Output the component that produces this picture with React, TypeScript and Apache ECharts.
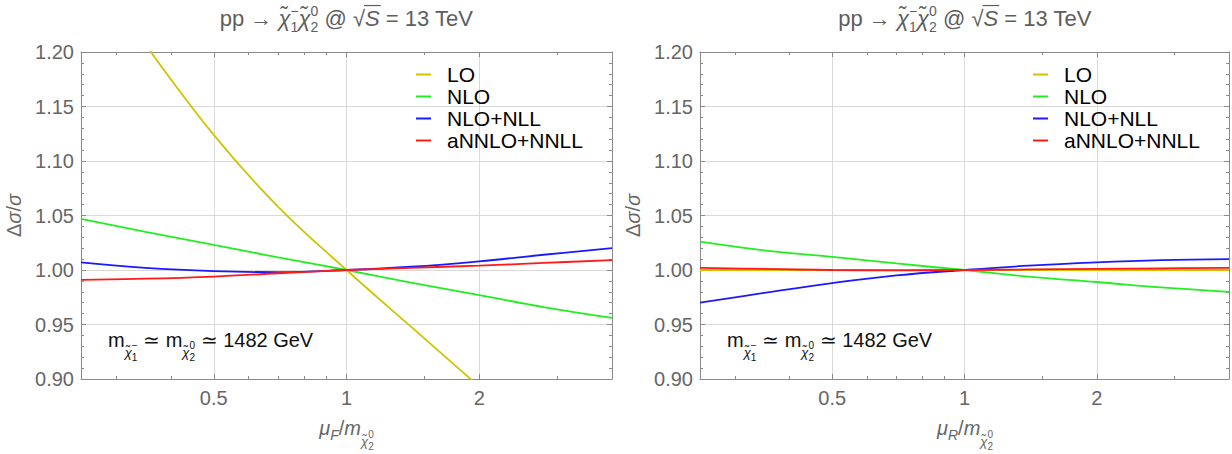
import React, { useEffect, useRef } from 'react';
import * as echarts from 'echarts';

// ---- data ----
const MU = [0.25, 0.35, 0.5, 0.7, 1, 1.4, 2, 2.8, 4];

// left panel: muF variation
const LO_F = [1.293, 1.207, 1.124, 1.058, 1.0, 0.948, 0.893, 0.841, 0.79];
const NLO_F = [1.047, 1.035, 1.023, 1.0115, 1.0, 0.9885, 0.977, 0.966, 0.956];
const NLL_F = [1.007, 1.002, 0.999, 0.998, 1.0, 1.003, 1.008, 1.014, 1.02];
const NNLL_F = [0.991, 0.992, 0.994, 0.997, 1.0, 1.002, 1.004, 1.0065, 1.009];

// right panel: muR variation
const LO_R = [1.0, 1.0, 1.0, 1.0, 1.0, 1.0, 1.0, 1.0, 1.0];
const NLO_R = [1.026, 1.018, 1.012, 1.006, 1.0, 0.994, 0.989, 0.984, 0.98];
const NLL_R = [0.97, 0.979, 0.988, 0.995, 1.0, 1.004, 1.007, 1.009, 1.01];
const NNLL_R = [1.002, 1.001, 1.0, 0.9997, 1.0, 1.0005, 1.001, 1.0015, 1.002];

const SERIES_NAMES = ['LO', 'NLO', 'NLO+NLL', 'aNNLO+NNLL'];
const COLORS = ['#cfc400', '#22ee22', '#1a1aff', '#ff1a1a'];
const PANEL_DATA = [
  [LO_F, NLO_F, NLL_F, NNLL_F],
  [LO_R, NLO_R, NLL_R, NNLL_R],
];

const X_MIN = 0.25;
const X_MAX = 4;
const X_LABELS = [0.5, 1, 2];
const X_MINOR = [0.3, 0.4, 0.6, 0.7, 0.8, 0.9, 1.5, 3];
const Y_MIN = 0.9;
const Y_MAX = 1.2;
const Y_STEP = 0.05;

const FONT = '"Liberation Sans", Arial, Helvetica, sans-serif';
const FRAME = '#8a8a8a';
const GRIDC = '#d9d9d9';
const LABELC = '#666666';
const TITLEC = '#5e5e5e';

const GRIDS = [
  { left: 81, top: 52, width: 531, height: 327 },
  { left: 700, top: 52, width: 530, height: 327 },
];

// ---- math-text helper (graphic text pieces) ----
type P = { t: string; s: number; dy?: number; it?: boolean; dx?: number; nw?: boolean; ov?: boolean };
let ctx: CanvasRenderingContext2D | null = null;
function tw(t: string, s: number, it?: boolean) {
  if (!ctx) ctx = document.createElement('canvas').getContext('2d');
  ctx!.font = `${it ? 'italic ' : ''}${s}px ${FONT}`;
  return ctx!.measureText(t).width;
}
function buildMath(items: (P | P[])[], x0: number, base: number, color: string, align: 'left' | 'center') {
  const groups = items.map((g) => (Array.isArray(g) ? g : [g]));
  const adv = groups.map((g) => Math.max(...g.filter((p) => !p.nw).map((p) => tw(p.t, p.s, p.it))));
  const total = adv.reduce((a, b) => a + b, 0);
  let x = align === 'center' ? x0 - total / 2 : x0;
  const els: any[] = [];
  groups.forEach((g, gi) => {
    g.forEach((p) => {
      const lead = p.t.length - p.t.replace(/^\s+/, '').length;
      const trimmed = p.t.trim();
      const off = lead > 0 ? tw(p.t.slice(0, lead), p.s, p.it) : 0;
      const px = x + off + (p.dx || 0);
      const by = base + (p.dy || 0);
      els.push({
        type: 'text',
        x: px,
        y: by - 0.35 * p.s,
        silent: true,
        z: 100,
        style: {
          text: trimmed,
          fill: color,
          fontSize: p.s,
          fontFamily: FONT,
          fontStyle: p.it ? 'italic' : 'normal',
          align: 'left',
          verticalAlign: 'middle',
          textAlign: 'left',
          textVerticalAlign: 'middle',
        },
      });
      if (p.ov) {
        const w = tw(trimmed, p.s, p.it);
        els.push({
          type: 'line',
          silent: true,
          z: 100,
          shape: { x1: px - 1, y1: by - 0.93 * p.s, x2: px + w + 1, y2: by - 0.93 * p.s },
          style: { stroke: color, lineWidth: 1.2 },
        });
      }
    });
    x += adv[gi];
  });
  return els;
}

const CHI = 'χ\u0303';

function titleItems(): (P | P[])[] {
  const s = 22;
  const ss = 14;
  return [
    { t: 'pp → ', s },
    { t: CHI, s, it: true },
    [{ t: '−', s: ss, dy: -10 }, { t: '1', s: ss, dy: 6 }],
    { t: CHI, s, it: true },
    [{ t: '0', s: ss, dy: -10 }, { t: '2', s: ss, dy: 6 }],
    { t: ' @ ', s },
    { t: '√', s },
    { t: 'S', s, it: true, ov: true },
    { t: ' = 13 TeV', s },
  ];
}
function xNameItems(sub: string): (P | P[])[] {
  const s = 20;
  return [
    { t: 'μ', s, it: true },
    { t: sub, s: 14, it: true, dy: 5 },
    { t: '/', s },
    { t: 'm', s, it: true },
    { t: CHI, s: 13, it: true, dy: 11 },
    [{ t: '0', s: 10, dy: 3 }, { t: '2', s: 10, dy: 15 }],
  ];
}
function noteItems(): (P | P[])[] {
  const s = 20;
  return [
    { t: 'm', s },
    { t: CHI, s: 13, it: true, dy: 10 },
    [{ t: '−', s: 10, dy: 2 }, { t: '1', s: 10, dy: 14 }],
    { t: ' ≃ m', s },
    { t: CHI, s: 13, it: true, dy: 10 },
    [{ t: '0', s: 10, dy: 2 }, { t: '2', s: 10, dy: 14 }],
    { t: ' ≃ 1482 GeV', s },
  ];
}

function buildOption() {
  const xAxis: any[] = [];
  const yAxis: any[] = [];
  const series: any[] = [];
  const graphic: any[] = [];
  const legend: any[] = [];
  const log2 = (v: number) => Math.log(v) / Math.LN2;

  GRIDS.forEach((g, gi) => {
    const mainX = {
      type: 'log',
      logBase: 2,
      gridIndex: gi,
      min: X_MIN,
      max: X_MAX,
      axisLine: { show: true, onZero: false, lineStyle: { color: FRAME, width: 1 } },
      axisTick: { show: true, inside: true, length: 5, lineStyle: { color: FRAME } },
      splitLine: { show: true, lineStyle: { color: GRIDC, width: 1 } },
    };
    xAxis.push({
      ...mainX,
      position: 'bottom',
      axisLabel: {
        color: LABELC,
        fontSize: 20,
        fontFamily: FONT,
        margin: 9,
        formatter: (v: number) => {
          const r = Math.round(v * 1000) / 1000;
          return X_LABELS.indexOf(r) >= 0 ? String(r) : '';
        },
      },
    });
    xAxis.push({ ...mainX, position: 'top', axisLabel: { show: false }, splitLine: { show: false } });
    const minorX = {
      type: 'value',
      gridIndex: gi,
      min: log2(X_MIN),
      max: log2(X_MAX),
      axisLine: { show: false, onZero: false },
      axisLabel: { show: false },
      splitLine: { show: false },
      axisTick: {
        show: true,
        inside: true,
        length: 3,
        customValues: X_MINOR.map(log2),
        lineStyle: { color: FRAME },
      },
    };
    xAxis.push({ ...minorX, position: 'bottom' });
    xAxis.push({ ...minorX, position: 'top' });

    const baseY = {
      type: 'value',
      gridIndex: gi,
      min: Y_MIN,
      max: Y_MAX,
      interval: Y_STEP,
      axisLine: { show: true, onZero: false, lineStyle: { color: FRAME, width: 1 } },
      axisTick: { show: true, inside: true, length: 5, lineStyle: { color: FRAME } },
      minorTick: { show: true, splitNumber: 5, length: 3, lineStyle: { color: FRAME } },
    };
    yAxis.push({
      ...baseY,
      position: 'left',
      splitLine: { show: true, lineStyle: { color: GRIDC, width: 1 } },
      axisLabel: {
        color: LABELC,
        fontSize: 20,
        fontFamily: FONT,
        margin: 7,
        formatter: (v: number) => v.toFixed(2),
      },
    });
    yAxis.push({ ...baseY, position: 'right', axisLabel: { show: false }, splitLine: { show: false } });

    SERIES_NAMES.forEach((name, si) => {
      series.push({
        type: 'line',
        name,
        xAxisIndex: gi * 4,
        yAxisIndex: gi * 2,
        data: MU.map((m, j) => [m, PANEL_DATA[gi][si][j]]),
        smooth: 0.4,
        symbol: 'none',
        showSymbol: false,
        clip: true,
        lineStyle: { color: COLORS[si], width: 1.8 },
        itemStyle: { color: COLORS[si] },
        z: 10 + si,
      });
    });

    const cx = g.left + g.width / 2;
    const cy = g.top + g.height / 2;
    graphic.push(...buildMath(titleItems(), cx, 26, TITLEC, 'center'));
    graphic.push(...buildMath(xNameItems(gi === 0 ? 'F' : 'R'), cx, 435, LABELC, 'center'));
    graphic.push(...buildMath(noteItems(), g.left + 27, 347, '#111', 'left'));
    graphic.push({
      type: 'text',
      x: g.left - 67,
      y: cy,
      rotation: Math.PI / 2,
      silent: true,
      style: {
        text: 'Δ{i|σ}/{i|σ}',
        rich: { i: { fontStyle: 'italic', fontSize: 20, fontFamily: FONT, fill: LABELC } },
        fill: LABELC,
        fontSize: 20,
        fontFamily: FONT,
        align: 'center',
        verticalAlign: 'middle',
        textAlign: 'center',
        textVerticalAlign: 'middle',
      },
    });

    legend.push({
      left: gi === 0 ? 416 : 1033,
      top: 64,
      orient: 'vertical',
      padding: 0,
      icon: 'rect',
      itemWidth: 15,
      itemHeight: 2,
      itemGap: 1,
      selectedMode: false,
      data: SERIES_NAMES,
      textStyle: { color: '#000', fontSize: 21, fontFamily: FONT, padding: [0, 0, 0, 11] },
    });
  });

  return {
    animation: false,
    backgroundColor: '#ffffff',
    textStyle: { fontFamily: FONT },
    grid: GRIDS.map((g) => ({ ...g, containLabel: false })),
    xAxis,
    yAxis,
    series,
    legend,
    graphic: { elements: graphic },
  };
}

export default function App() {
  const ref = useRef<HTMLDivElement>(null);
  useEffect(() => {
    const chart = echarts.init(ref.current!, null, { renderer: 'svg' });
    chart.setOption(buildOption() as any);
    return () => chart.dispose();
  }, []);
  return (
    <div
      ref={ref}
      style={{ position: 'fixed', left: 0, top: 0, width: 1232, height: 454, background: '#fff' }}
    />
  );
}
